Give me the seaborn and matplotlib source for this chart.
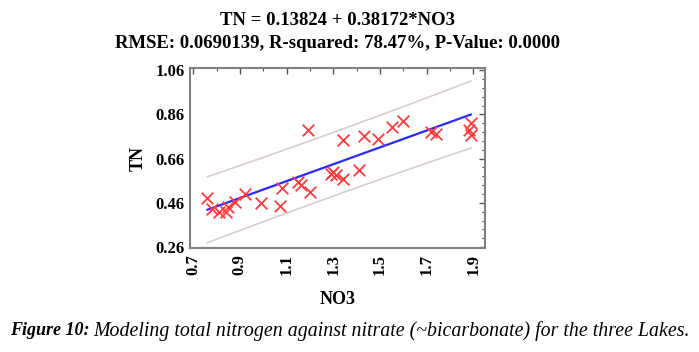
import numpy as np
import pandas as pd
import seaborn as sns
import matplotlib.pyplot as plt
from matplotlib.ticker import AutoMinorLocator

no3 = [0.76, 0.78, 0.81, 0.84, 0.85, 0.88, 0.92, 0.99, 1.07, 1.08,
       1.15, 1.16, 1.19, 1.20, 1.29, 1.30, 1.31, 1.34, 1.34, 1.41,
       1.43, 1.49, 1.55, 1.60, 1.72, 1.74, 1.88, 1.89, 1.89]
tn = [0.48, 0.43, 0.42, 0.42, 0.44, 0.465, 0.50, 0.46, 0.445, 0.525,
      0.555, 0.54, 0.79, 0.51, 0.59, 0.60, 0.585, 0.57, 0.745, 0.61,
      0.76, 0.75, 0.805, 0.83, 0.78, 0.77, 0.79, 0.82, 0.765]

# model reported in the title
intercept = 0.13824
slope = 0.38172
rmse = 0.0690139
x_ticks = [0.7, 0.9, 1.1, 1.3, 1.5, 1.7, 1.9]
y_ticks = [0.26, 0.46, 0.66, 0.86, 1.06]

df = pd.DataFrame({'NO3': no3, 'TN': tn})

# fitted line and 95% prediction limits
n = len(no3)
xs = np.linspace(min(no3), max(no3), 100)
fit = intercept + slope * xs
xbar = np.mean(no3)
sxx = np.sum((np.array(no3) - xbar) ** 2)
half = 2.05 * rmse * np.sqrt(1 + 1 / n + (xs - xbar) ** 2 / sxx)
fit_df = pd.DataFrame({'NO3': xs, 'fit': fit, 'upper': fit + half, 'lower': fit - half})

sns.set_style('white')
plt.rcParams['font.family'] = ['Liberation Serif', 'DejaVu Serif']
plt.rcParams['text.color'] = 'black'
plt.rcParams['axes.labelcolor'] = 'black'
plt.rcParams['xtick.labelcolor'] = 'black'
plt.rcParams['ytick.labelcolor'] = 'black'

fig = plt.figure(figsize=(6.99, 3.52), dpi=100)
ax = fig.add_axes([0.272, 0.295, 0.422, 0.512])

sns.lineplot(data=fit_df, x='NO3', y='upper', color='#d9cccc', lw=1.2, ax=ax)
sns.lineplot(data=fit_df, x='NO3', y='lower', color='#d9cccc', lw=1.2, ax=ax)
sns.lineplot(data=fit_df, x='NO3', y='fit', color='#2a2aff', lw=1.6, ax=ax)
sns.scatterplot(data=df, x='NO3', y='TN', marker='x', s=70, color='#ff3b3b',
                linewidth=1.3, ax=ax, zorder=5)

ax.set_xlim(0.687, 1.95)
ax.set_ylim(0.255, 1.07)
ax.set_xticks(x_ticks)
ax.set_yticks(y_ticks)
ax.set_xticklabels([str(v) for v in x_ticks], rotation=90, fontweight='bold', fontsize=12)
ax.set_yticklabels(['%.2f' % v for v in y_ticks], fontweight='bold', fontsize=12)
ax.yaxis.set_minor_locator(AutoMinorLocator(5))
ax.xaxis.set_minor_locator(AutoMinorLocator(2))
ax.tick_params(which='both', direction='in', top=True, right=True, color='#555555')
ax.tick_params(which='major', length=4, width=1, pad=4)
ax.tick_params(which='minor', length=2, width=0.8)
for s in ax.spines.values():
    s.set_color('#808080')
    s.set_linewidth(1.5)

ax.set_xlabel('NO3', fontweight='bold', fontsize=13, labelpad=12)
ax.set_ylabel('TN', fontweight='bold', fontsize=13, labelpad=6)

fig.text(0.483, 0.943, 'TN = 0.13824 + 0.38172*NO3', ha='center', va='center',
         fontweight='bold', fontsize=13.5)
fig.text(0.483, 0.876, 'RMSE: 0.0690139, R-squared: 78.47%, P-Value: 0.0000',
         ha='center', va='center', fontweight='bold', fontsize=13.5)

# caption: bold italic lead followed by italic text
lead = fig.text(0.015, 0.06, 'Figure 10:', ha='left', va='center', fontweight='bold',
                style='italic', fontsize=13)
fig.canvas.draw()
bb = lead.get_window_extent().transformed(fig.transFigure.inverted())
fig.text(bb.x1 + 0.005, 0.06,
         'Modeling total nitrogen against nitrate (~bicarbonate) for the three Lakes.',
         ha='left', va='center', style='italic', fontsize=14.3)

fig.savefig('out.png', dpi=100)
